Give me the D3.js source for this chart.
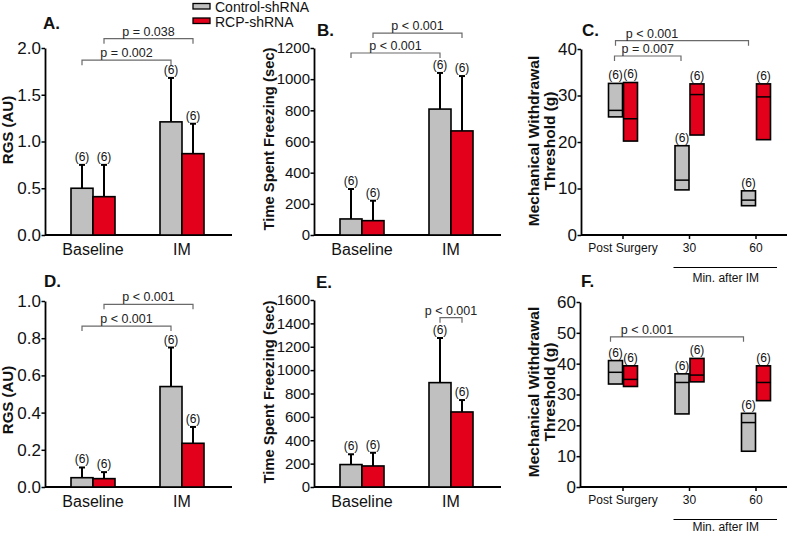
<!DOCTYPE html>
<html><head><meta charset="utf-8">
<script src="https://cdn.jsdelivr.net/npm/d3@7"></script>
<style>
html,body{margin:0;padding:0;background:#fff;}
svg text{font-family:Arial,"Liberation Sans",Helvetica,sans-serif;}
</style></head>
<body><svg id="chart" width="787" height="534"></svg>
<script>
// ---------- DATA ----------
const categories = ["Baseline", "IM"];
const seriesNames = ["Control-shRNA", "RCP-shRNA"];
const timepoints = ["Post Surgery", "30", "60"];
const groupN = 6;

// Panel A: RGS (AU)
const rgsA_control = [0.50, 1.21];
const rgsA_control_err = [0.25, 0.47];
const rgsA_rcp = [0.41, 0.87];
const rgsA_rcp_err = [0.34, 0.32];
const yTicksA = [0, 0.5, 1.0, 1.5, 2.0];

// Panel B: time spent freezing (sec)
const freezeB_control = [103, 808];
const freezeB_control_err = [192, 232];
const freezeB_rcp = [92, 668];
const freezeB_rcp_err = [128, 352];
const yTicksB = [0, 200, 400, 600, 800, 1000, 1200];

// Panel C: mechanical withdrawal threshold (g)
const mwtC_control_low = [25.4, 9.7, 6.3];
const mwtC_control_med = [26.8, 11.8, 7.5];
const mwtC_control_high = [32.6, 19.2, 9.5];
const mwtC_rcp_low = [20.2, 21.5, 20.5];
const mwtC_rcp_med = [25.0, 30.2, 29.7];
const mwtC_rcp_high = [32.8, 32.5, 32.5];
const yTicksC = [0, 10, 20, 30, 40];

// Panel D: RGS (AU)
const rgsD_control = [0.05, 0.54];
const rgsD_control_err = [0.055, 0.21];
const rgsD_rcp = [0.045, 0.235];
const rgsD_rcp_err = [0.035, 0.088];
const yTicksD = [0, 0.2, 0.4, 0.6, 0.8, 1.0];

// Panel E: time spent freezing (sec)
const freezeE_control = [192, 893];
const freezeE_control_err = [88, 382];
const freezeE_rcp = [180, 642];
const freezeE_rcp_err = [113, 102];
const yTicksE = [0, 200, 400, 600, 800, 1000, 1200, 1400, 1600];

// Panel F: mechanical withdrawal threshold (g)
const mwtF_control_low = [33.4, 23.7, 11.6];
const mwtF_control_med = [37.2, 33.9, 20.9];
const mwtF_control_high = [41.0, 36.7, 23.9];
const mwtF_rcp_low = [32.6, 34.1, 28.0];
const mwtF_rcp_med = [34.9, 36.3, 33.9];
const mwtF_rcp_high = [39.3, 41.7, 39.3];
const yTicksF = [0, 10, 20, 30, 40, 50, 60];

// Significance labels
const pLabelsA = ["p = 0.002", "p = 0.038"];
const pLabelsB = ["p < 0.001", "p < 0.001"];
const pLabelsC = ["p = 0.007", "p < 0.001"];
const pLabelsD = ["p < 0.001", "p < 0.001"];
const pLabelsE = ["p < 0.001"];
const pLabelsF = ["p < 0.001"];

// ---------- STYLE ----------
const colors = ["#c0c0c0", "#e2001a"];
const bracketColor = "#6a6a6a";
const svg = d3.select("#chart");

function drawYAxis(g, y, ticks, fmt, size) {
  const ax = d3.axisLeft(y).tickValues(ticks).tickFormat(fmt).tickSize(3.5).tickSizeOuter(0);
  const a = g.append("g").call(ax);
  a.select(".domain").attr("stroke", "#000").attr("stroke-width", 1.8);
  a.selectAll(".tick line").attr("stroke", "#000").attr("stroke-width", 1.5);
  a.selectAll(".tick text").attr("font-size", size).attr("fill", "#111").attr("x", -4)
    .attr("font-family", "Arial, 'Liberation Sans', sans-serif");
}

function yLabel(lines, bx, cy, size) {
  const t = svg.append("g").attr("transform", `translate(${bx},${cy}) rotate(-90)`);
  lines.forEach((l, i) => {
    t.append("text").attr("x", 0).attr("y", (i - (lines.length - 1)) * 16)
      .attr("text-anchor", "middle").attr("font-weight", "bold")
      .attr("font-size", size).attr("fill", "#111").text(l);
  });
}

function letter(txt, x, y) {
  svg.append("text").attr("x", x).attr("y", y).attr("font-weight", "bold")
    .attr("font-size", 17).attr("fill", "#111").text(txt);
}

function bracket(x1, x2, yy, label, dx) {
  const g = svg.append("g");
  g.append("path").attr("d", `M${x1},${yy + 5}V${yy}H${x2}V${yy + 5}`)
    .attr("fill", "none").attr("stroke", bracketColor).attr("stroke-width", 1.2);
  g.append("text").attr("x", (x1 + x2) / 2 + (dx || 0)).attr("y", yy - 3)
    .attr("text-anchor", "middle").attr("font-size", 12.5).attr("fill", "#222").text(label);
}

function nLabel(x, yy) {
  svg.append("text").attr("x", x).attr("y", yy - 4).attr("text-anchor", "middle")
    .attr("font-size", 12).attr("fill", "#111").text(`(${groupN})`);
}

// ---------- BAR PANELS ----------
function barPanel(p) {
  const y = d3.scaleLinear().domain(p.domain).range([p.yBot, p.yTop]);
  const x = d3.scalePoint().domain(categories).range([p.x0 + 48, p.x0 + 137]);
  const bw = 22;
  const g = svg.append("g").attr("transform", `translate(${p.x0},0)`);
  drawYAxis(g, y, p.ticks, p.fmt, p.tickSize);
  svg.append("line").attr("x1", p.x0).attr("x2", p.x0 + 187).attr("y1", p.yBot).attr("y2", p.yBot)
    .attr("stroke", "#000").attr("stroke-width", 1.8);
  categories.forEach(c => {
    svg.append("text").attr("x", x(c)).attr("y", p.yBot + 19.5).attr("text-anchor", "middle")
      .attr("font-size", 16).attr("fill", "#111").text(c);
  });
  const series = [
    {vals: p.ctrl, err: p.ctrlErr, off: -bw, color: colors[0]},
    {vals: p.rcp, err: p.rcpErr, off: 0, color: colors[1]}
  ];
  const centers = [];
  series.forEach((s, si) => {
    centers[si] = [];
    categories.forEach((c, ci) => {
      const xl = x(c) + s.off;
      const cx = xl + bw / 2;
      centers[si][ci] = cx;
      const top = y(s.vals[ci] + s.err[ci]);
      svg.append("line").attr("x1", cx).attr("x2", cx).attr("y1", y(s.vals[ci])).attr("y2", top)
        .attr("stroke", "#000").attr("stroke-width", 2);
      svg.append("line").attr("x1", cx - 3).attr("x2", cx + 3).attr("y1", top).attr("y2", top)
        .attr("stroke", "#000").attr("stroke-width", 2);
      svg.append("rect").attr("x", xl).attr("y", y(s.vals[ci])).attr("width", bw)
        .attr("height", y(0) - y(s.vals[ci])).attr("fill", s.color)
        .attr("stroke", "#000").attr("stroke-width", 1.6);
      nLabel(cx, top);
    });
  });
  p.brackets.forEach(b => {
    bracket(centers[b.s1][b.c1], centers[b.s2][b.c2], y(b.level), b.label, b.dx);
  });
}

// ---------- BOX PANELS ----------
function boxPanel(p) {
  const y = d3.scaleLinear().domain(p.domain).range([p.yBot, p.yTop]);
  const x = d3.scalePoint().domain(timepoints).range([623, 756]);
  const bw = 14;
  const g = svg.append("g").attr("transform", `translate(${p.x0},0)`);
  drawYAxis(g, y, p.ticks, d3.format("d"), 17);
  svg.append("line").attr("x1", p.x0).attr("x2", 787).attr("y1", p.yBot).attr("y2", p.yBot)
    .attr("stroke", "#000").attr("stroke-width", 1.8);
  timepoints.forEach(t => {
    svg.append("line").attr("x1", x(t)).attr("x2", x(t)).attr("y1", p.yBot).attr("y2", p.yBot + 4)
      .attr("stroke", "#000").attr("stroke-width", 1.5);
    svg.append("text").attr("x", x(t)).attr("y", p.yBot + 17).attr("text-anchor", "middle")
      .attr("font-size", 12).attr("fill", "#111").text(t);
  });
  svg.append("line").attr("x1", x("30") - 16).attr("x2", x("60") + 21)
    .attr("y1", p.yBot + 32.5).attr("y2", p.yBot + 32.5).attr("stroke", "#000").attr("stroke-width", 1.2);
  svg.append("text").attr("x", (x("30") + x("60")) / 2 + 3).attr("y", p.yBot + p.minDy)
    .attr("text-anchor", "middle").attr("font-size", 12).attr("fill", "#111").text("Min. after IM");
  const series = [
    {lo: p.cLo, md: p.cMd, hi: p.cHi, off: -bw - 0.5, color: colors[0]},
    {lo: p.rLo, md: p.rMd, hi: p.rHi, off: 0.5, color: colors[1]}
  ];
  const centers = [];
  series.forEach((s, si) => {
    centers[si] = [];
    timepoints.forEach((t, ti) => {
      const xl = x(t) + s.off;
      centers[si][ti] = xl + bw / 2;
      svg.append("rect").attr("x", xl).attr("y", y(s.hi[ti])).attr("width", bw)
        .attr("height", y(s.lo[ti]) - y(s.hi[ti])).attr("fill", s.color)
        .attr("stroke", "#000").attr("stroke-width", 1.6);
      svg.append("line").attr("x1", xl).attr("x2", xl + bw).attr("y1", y(s.md[ti])).attr("y2", y(s.md[ti]))
        .attr("stroke", "#000").attr("stroke-width", 1.5);
      nLabel(xl + bw / 2, y(s.hi[ti]));
    });
  });
  p.brackets.forEach(b => {
    bracket(centers[b.s1][b.c1] + (b.shift || 0), centers[b.s2][b.c2] + (b.shift || 0), y(b.level), b.label, b.dx);
  });
}

// ---------- LEGEND ----------
seriesNames.forEach((n, i) => {
  svg.append("rect").attr("x", 193).attr("y", 3.5 + i * 14.5).attr("width", 17).attr("height", 5.5)
    .attr("fill", colors[i]).attr("stroke", "#000").attr("stroke-width", 1.3);
  svg.append("text").attr("x", 215).attr("y", 12 + i * 14.5).attr("font-size", 14)
    .attr("fill", "#111").text(n);
});

// ---------- PANELS ----------
barPanel({x0: 45, yTop: 48, yBot: 235, domain: [0, 2], ticks: yTicksA, fmt: d3.format(".1f"), tickSize: 17,
  ctrl: rgsA_control, ctrlErr: rgsA_control_err, rcp: rgsA_rcp, rcpErr: rgsA_rcp_err,
  brackets: [{s1: 0, c1: 0, s2: 0, c2: 1, level: 1.87, label: pLabelsA[0]},
             {s1: 1, c1: 0, s2: 1, c2: 1, level: 2.10, label: pLabelsA[1]}]});
letter("A.", 43, 28.5); yLabel(["RGS (AU)"], 13, 130, 15);

barPanel({x0: 314, yTop: 48, yBot: 235, domain: [0, 1200], ticks: yTicksB, fmt: d3.format("d"), tickSize: 15,
  ctrl: freezeB_control, ctrlErr: freezeB_control_err, rcp: freezeB_rcp, rcpErr: freezeB_rcp_err,
  brackets: [{s1: 0, c1: 0, s2: 0, c2: 1, level: 1168, label: pLabelsB[0]},
             {s1: 1, c1: 0, s2: 1, c2: 1, level: 1296, label: pLabelsB[1]}]});
letter("B.", 317, 36); yLabel(["Time Spent Freezing (sec)"], 274, 139, 14.8);

boxPanel({x0: 581, yTop: 49, yBot: 235, domain: [0, 40], ticks: yTicksC, minDy: 47,
  cLo: mwtC_control_low, cMd: mwtC_control_med, cHi: mwtC_control_high,
  rLo: mwtC_rcp_low, rMd: mwtC_rcp_med, rHi: mwtC_rcp_high,
  brackets: [{s1: 0, c1: 0, s2: 0, c2: 1, level: 38.5, label: pLabelsC[0], shift: -1},
             {s1: 0, c1: 0, s2: 0, c2: 2, level: 41.8, label: pLabelsC[1], dx: -30}]});
letter("C.", 582, 36); yLabel(["Mechanical Withdrawal", "Threshold (g)"], 555, 141, 15.5);

barPanel({x0: 45, yTop: 301, yBot: 487, domain: [0, 1], ticks: yTicksD, fmt: d3.format(".1f"), tickSize: 17,
  ctrl: rgsD_control, ctrlErr: rgsD_control_err, rcp: rgsD_rcp, rcpErr: rgsD_rcp_err,
  brackets: [{s1: 0, c1: 0, s2: 0, c2: 1, level: 0.865, label: pLabelsD[0]},
             {s1: 1, c1: 0, s2: 1, c2: 1, level: 0.982, label: pLabelsD[1]}]});
letter("D.", 44, 287); yLabel(["RGS (AU)"], 13, 400, 15);

barPanel({x0: 314, yTop: 300, yBot: 487, domain: [0, 1600], ticks: yTicksE, fmt: d3.format("d"), tickSize: 15,
  ctrl: freezeE_control, ctrlErr: freezeE_control_err, rcp: freezeE_rcp, rcpErr: freezeE_rcp_err,
  brackets: [{s1: 0, c1: 1, s2: 1, c2: 1, level: 1449, label: pLabelsE[0]}]});
letter("E.", 316, 288); yLabel(["Time Spent Freezing (sec)"], 274, 392, 14.8);

boxPanel({x0: 580, yTop: 302, yBot: 487, domain: [0, 60], ticks: yTicksF, minDy: 43.5,
  cLo: mwtF_control_low, cMd: mwtF_control_med, cHi: mwtF_control_high,
  rLo: mwtF_rcp_low, rMd: mwtF_rcp_med, rHi: mwtF_rcp_high,
  brackets: [{s1: 0, c1: 0, s2: 0, c2: 2, level: 48.7, label: pLabelsF[0], dx: -30, shift: -5}]});
letter("F.", 581, 287); yLabel(["Mechanical Withdrawal", "Threshold (g)"], 555, 392, 15.5);
</script></body></html>
